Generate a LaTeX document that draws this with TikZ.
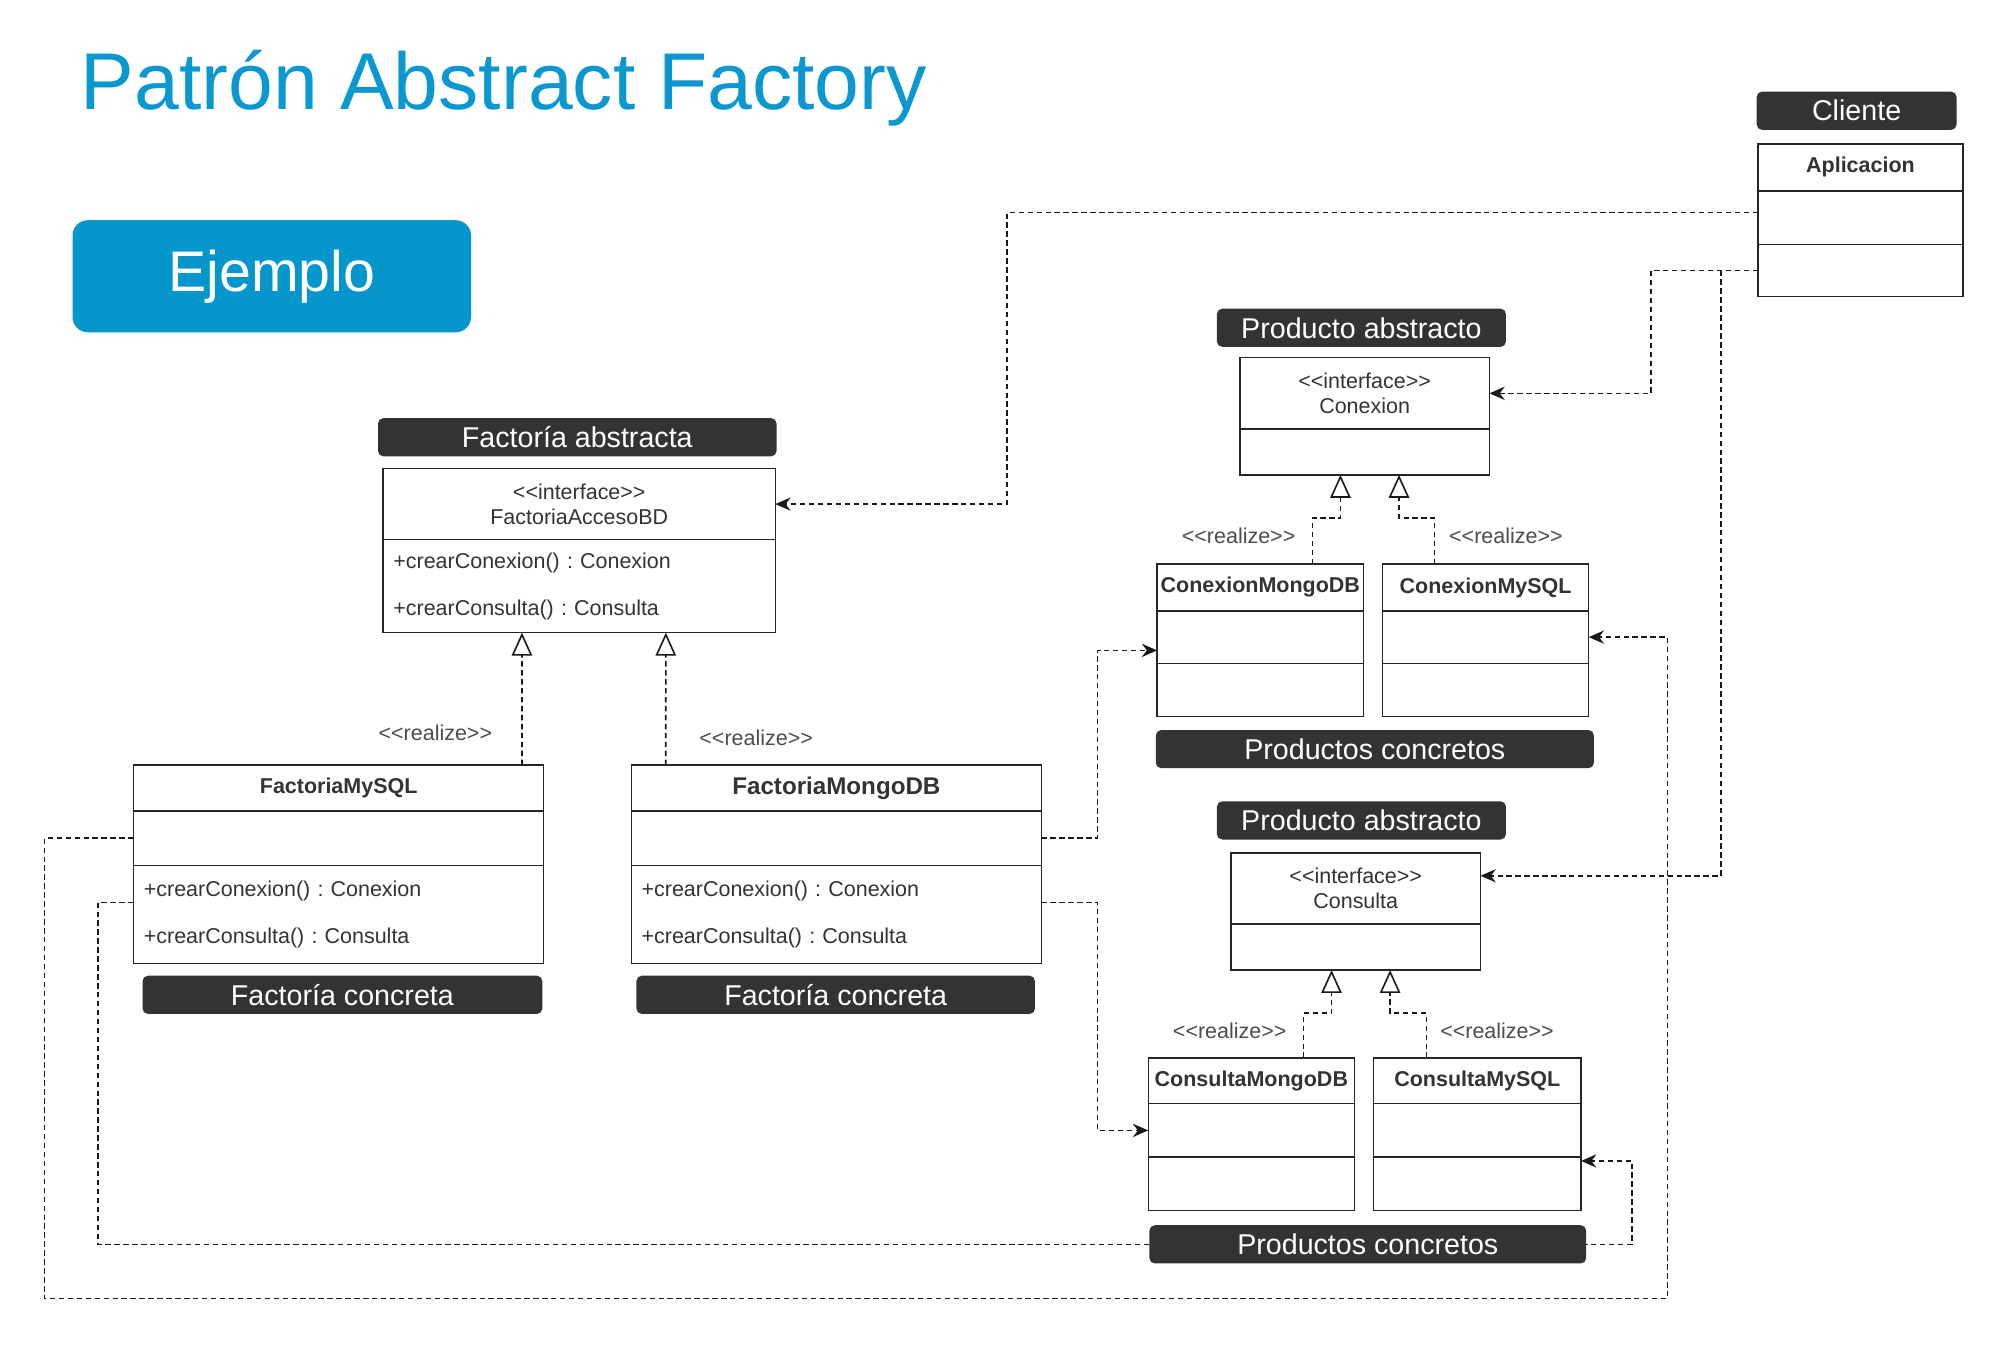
\documentclass[tikz,border=0pt]{standalone}
\usepackage{fontspec}
\setmainfont{Liberation Sans}
\usetikzlibrary{arrows.meta,positioning,backgrounds}
\definecolor{tagdark}{HTML}{333333}
\definecolor{titleblue}{HTML}{0B97D0}
\definecolor{ejblue}{HTML}{0596CC}
\definecolor{textgray}{HTML}{333333}
\newcommand{\stereo}[1]{<\kern0pt<#1>\kern0pt>}
\frenchspacing

\begin{document}
\begin{tikzpicture}[x=0.025cm, y=-0.025cm,
  tag/.style={fill=tagdark, rounded corners=3pt, text=white, font=\fontsize{16}{19}\selectfont, minimum height=0.75cm, inner sep=0pt},
  cell/.style={draw=black!85, line width=0.8pt, fill=white, inner sep=0pt, outer sep=0pt, text=textgray, font=\fontsize{12}{14.2}\selectfont},
  head/.style={cell, font=\bfseries\fontsize{12}{14.2}\selectfont},
  ops/.style={cell, align=left, inner xsep=0.2cm, font=\fontsize{12}{26.2}\selectfont},
  realize/.style={text=black!70, font=\fontsize{12}{14}\selectfont},
  dep/.style={draw=black!90, line width=0.9pt, dash pattern=on 3pt off 2pt, -{Stealth[length=3mm,width=2.6mm]}},
  real/.style={draw=black!90, line width=0.9pt, dash pattern=on 3pt off 2pt, -{Triangle[open,length=4.5mm,width=4mm,fill=white]}}
]
\useasboundingbox (0,0) rectangle (1568,1058);

\node[anchor=base west, inner sep=0pt, text=titleblue, font=\fontsize{45}{54}\selectfont] (titulo) at (63,86) {Patrón Abstract Factory};
\node[fill=ejblue, rounded corners=0.3cm, text=white, font=\fontsize{32}{38}\selectfont, minimum width=7.825cm, minimum height=2.2cm, inner sep=0pt] (ejemplo) at (213.5,217) {\raisebox{-2pt}{Ejemplo}};

% cliente
\node[tag, minimum width=3.925cm] (cliente) at (1458.5,87) {Cliente};
\node[head, anchor=north west, minimum width=4.025cm, minimum height=0.925cm] (aphead) at (1381,113) {Aplicacion};
\node[cell, below=0pt of aphead, minimum width=4.025cm, minimum height=1.05cm] (apmid) {};
\node[cell, below=0pt of apmid, minimum width=4.025cm, minimum height=1.025cm] (apbot) {};

% factoria abstracta
\node[tag, minimum width=7.825cm] (fabtag) at (453.5,343.5) {Factoría abstracta};
\node[cell, anchor=north west, minimum width=7.7cm, minimum height=1.4cm, align=center] (fabhead) at (301,368) {\stereo{interface}\\FactoriaAccesoBD};
\node[ops, below=0pt of fabhead, text width=7.3cm, minimum height=1.825cm] (fabbody) {+crearConexion() : Conexion\\+crearConsulta() : Consulta};

% factorias concretas
\node[head, anchor=north west, minimum width=8.05cm, minimum height=0.9cm] (fmshead) at (105,601) {FactoriaMySQL};
\node[cell, below=0pt of fmshead, minimum width=8.05cm, minimum height=1.075cm] (fmsmid) {};
\node[ops, below=0pt of fmsmid, text width=7.65cm, minimum height=1.925cm] (fmsbot) {+crearConexion() : Conexion\\+crearConsulta() : Consulta};
\node[tag, minimum width=7.85cm] (fmstag) at (269,781.5) {Factoría concreta};

\node[head, font=\bfseries\fontsize{13.5}{16}\selectfont, anchor=north west, minimum width=8.05cm, minimum height=0.9cm] (fmghead) at (496,601) {FactoriaMongoDB};
\node[cell, below=0pt of fmghead, minimum width=8.05cm, minimum height=1.075cm] (fmgmid) {};
\node[ops, below=0pt of fmgmid, text width=7.65cm, minimum height=1.925cm] (fmgbot) {+crearConexion() : Conexion\\+crearConsulta() : Consulta};
\node[tag, minimum width=7.825cm] (fmgtag) at (656.5,781.5) {Factoría concreta};

% productos conexion
\node[tag, minimum width=5.675cm] (pa1) at (1069.5,257.5) {Producto abstracto};
\node[cell, anchor=north west, minimum width=4.9cm, minimum height=1.4cm, align=center] (conhead) at (974,281) {\stereo{interface}\\Conexion};
\node[cell, below=0pt of conhead, minimum width=4.9cm, minimum height=0.9cm] (conbot) {};
\node[head, anchor=north west, minimum width=4.05cm, minimum height=0.925cm] (cmhead) at (909,443) {ConexionMongoDB};
\node[cell, below=0pt of cmhead, minimum width=4.05cm, minimum height=1.025cm] (cmmid) {};
\node[cell, below=0pt of cmmid, minimum width=4.05cm, minimum height=1.05cm] (cmbot) {};
\node[head, anchor=north west, minimum width=4.05cm, minimum height=0.925cm] (cyhead) at (1086,443) {ConexionMySQL};
\node[cell, below=0pt of cyhead, minimum width=4.05cm, minimum height=1.025cm] (cymid) {};
\node[cell, below=0pt of cymid, minimum width=4.05cm, minimum height=1.05cm] (cybot) {};
\node[tag, minimum width=8.6cm] (pc1) at (1080,588.5) {Productos concretos};

% productos consulta
\node[tag, minimum width=5.675cm] (pa2) at (1069.5,644.5) {Producto abstracto};
\node[cell, anchor=north west, minimum width=4.9cm, minimum height=1.4cm, align=center] (cshead) at (967,670) {\stereo{interface}\\Consulta};
\node[cell, below=0pt of cshead, minimum width=4.9cm, minimum height=0.9cm] (csbot) {};
\node[head, anchor=north west, minimum width=4.05cm, minimum height=0.9cm] (qmhead) at (902,831) {ConsultaMongoDB};
\node[cell, below=0pt of qmhead, minimum width=4.05cm, minimum height=1.05cm] (qmmid) {};
\node[cell, below=0pt of qmmid, minimum width=4.05cm, minimum height=1.05cm] (qmbot) {};
\node[head, anchor=north west, minimum width=4.075cm, minimum height=0.9cm] (qyhead) at (1079,831) {ConsultaMySQL};
\node[cell, below=0pt of qyhead, minimum width=4.075cm, minimum height=1.05cm] (qymid) {};
\node[cell, below=0pt of qymid, minimum width=4.075cm, minimum height=1.05cm] (qybot) {};
\node[tag, minimum width=8.575cm] (pc2) at (1074.5,977.5) {Productos concretos};

% realizaciones
\draw[real] ([xshift=3.6cm]fmshead.north) -- ([xshift=-1.125cm]fabbody.south);
\draw[real] ([xshift=-3.35cm]fmghead.north) -- ([xshift=1.7cm]fabbody.south);
\draw[real] ([xshift=1.025cm]cmhead.north) -- ++(0,0.9cm) -| ([xshift=-0.475cm]conbot.south);
\draw[real] ([xshift=-1cm]cyhead.north) -- ++(0,0.9cm) -| ([xshift=0.675cm]conbot.south);
\draw[real] ([xshift=1.025cm]qmhead.north) -- ++(0,0.875cm) -| ([xshift=-0.475cm]csbot.south);
\draw[real] ([xshift=-1cm]qyhead.north) -- ++(0,0.875cm) -| ([xshift=0.675cm]csbot.south);
\node[realize] (rl1) at (342,576) {\stereo{realize}};
\node[realize] (rl2) at (594,580) {\stereo{realize}};
\node[realize] (rl3) at (973,421) {\stereo{realize}};
\node[realize] (rl4) at (1183,421) {\stereo{realize}};
\node[realize] (rl5) at (966,810) {\stereo{realize}};
\node[realize] (rl6) at (1176,810) {\stereo{realize}};

% dependencias
\begin{scope}[on background layer]
\draw[dep] ([yshift=0.1cm]apmid.west) -| ([xshift=4.55cm]fabhead.east) -- (fabhead.east);
\draw[dep] (apbot.west) -| ([xshift=3.175cm]conhead.east) -- (conhead.east);
\draw[dep] ([xshift=-0.725cm]apbot.west) |- ([yshift=0.25cm]cshead.east);
\draw[dep] (fmgmid.east) -- ++(1.1cm,0) |- ([yshift=-0.26cm]cmmid.west);
\draw[dep] ([yshift=0.24cm]fmgbot.east) -- ++(1.1cm,0) |- (qmmid.west);
\draw[dep] (fmsmid.west) -- ++(-1.75cm,0) -- ++(0,-9.04cm) -| ([xshift=1.55cm]cymid.east) -- (cymid.east);
\draw[dep] ([yshift=0.24cm]fmsbot.west) -- ++(-0.7cm,0) |- (pc2.west) -- (pc2.east) -| ([xshift=1cm,yshift=0.45cm]qybot.east) -- ([yshift=0.45cm]qybot.east);
\end{scope}
\end{tikzpicture}
\end{document}
